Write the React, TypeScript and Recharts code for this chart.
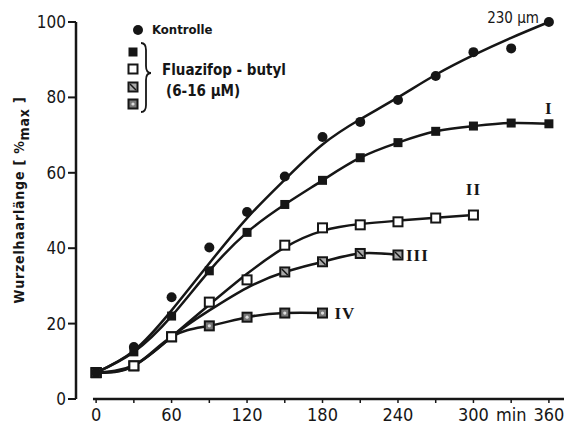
import {
  ComposedChart,
  Line,
  Scatter,
  XAxis,
  YAxis,
  ReferenceLine,
  ReferenceDot,
} from "recharts";

// sampling times (min)
const minutes = [0, 30, 60, 90, 120, 150, 180, 210, 240, 270, 300, 330, 360];

// Kontrolle: measured values and the hand-fitted curve through them
const kontrolleMeasured = [7, 13.8, 27, 40.2, 49.6, 59, 69.5, 73.5, 79.3, 85.7, 92, 93, 100];
const kontrolleCurve = [7, 12.8, 23.5, 36, 48, 58.2, 67.5, 74.2, 80, 86, 91.2, 95.8, 100];

// Fluazifop-butyl series (% of max)
const seriesI = [7, 12.5, 22, 34, 44.2, 51.6, 58, 64, 68, 71, 72.4, 73.2, 73];
const seriesIIMeasured = [7, 8.8, 16.5, 25.7, 31.6, 40.8, 45.4, 46.2, 47, 48, 48.8];
const seriesIICurve = [7, 9, 16.5, 25, 33.2, 40.2, 44.6, 46.4, 47.3, 48.1, 48.8];
const seriesIIICurve = [7, 8.8, 16.5, 23.5, 29.5, 33.7, 36.4, 38.6, 38.2];
const seriesIIIMinutes = [0, 150, 180, 210, 240];
const seriesIIIMeasured = [7, 33.7, 36.4, 38.6, 38.2];
const seriesIV = [7, 8.8, 16.5, 19.4, 21.7, 22.8, 22.8];

const xTicks = [0, 30, 60, 90, 120, 150, 180, 210, 240, 270, 300, 330, 360];
const xTickLabels: Record<number, string> = {
  0: "0",
  60: "60",
  120: "120",
  180: "180",
  240: "240",
  300: "300",
  330: "min",
  360: "360",
};
const yTicks = [0, 20, 40, 60, 80, 100];

const toRows = (values: number[], times: number[] = minutes) =>
  values.map((v, i) => ({ t: times[i], v }));

const INK = "#161616";
const NUM_FONT = "'DejaVu Sans Condensed', 'Liberation Sans', sans-serif";
const SERIF = "'Liberation Serif', 'DejaVu Serif', serif";

type MarkerKind = "circle" | "filled" | "open" | "hatched" | "dotted";

const Marker = ({ kind, cx, cy }: { kind: MarkerKind; cx: number; cy: number }) => {
  const s = 9;
  if (kind === "circle") return <circle cx={cx} cy={cy} r={5} fill={INK} />;
  if (kind === "filled")
    return <rect x={cx - s / 2} y={cy - s / 2} width={s} height={s} fill={INK} />;
  if (kind === "open")
    return (
      <rect
        x={cx - s / 2}
        y={cy - s / 2}
        width={s}
        height={s}
        fill="#fff"
        stroke={INK}
        strokeWidth={2}
      />
    );
  if (kind === "hatched")
    return (
      <g>
        <rect x={cx - s / 2} y={cy - s / 2} width={s} height={s} fill="#aaa" stroke={INK} strokeWidth={2} />
        <line x1={cx - 3} y1={cy - 3} x2={cx + 3} y2={cy + 3} stroke={INK} strokeWidth={1.5} />
      </g>
    );
  return (
    <g>
      <rect x={cx - s / 2} y={cy - s / 2} width={s} height={s} fill="#777" stroke={INK} strokeWidth={2} />
      <circle cx={cx} cy={cy} r={1.6} fill="#ddd" />
    </g>
  );
};

const dotOf = (kind: MarkerKind) => (p: any) =>
  <Marker key={`${kind}-${p.index}`} kind={kind} cx={p.cx} cy={p.cy} />;

const romanLabel = (value: string, position: any, offset: number) => ({
  value,
  position,
  offset,
  fill: INK,
  fontFamily: SERIF,
  fontSize: 17,
  fontWeight: "bold",
  letterSpacing: 1,
});

export default function App() {
  return (
    <div style={{ position: "absolute", left: 0, top: 0, width: 564, height: 431, background: "#fff" }}>
      <ComposedChart width={564} height={431} margin={{ top: 22, right: 0, bottom: 0, left: 0 }}>
        <XAxis
          type="number"
          dataKey="t"
          domain={[-16, 372]}
          ticks={xTicks}
          tickFormatter={(v: number) => xTickLabels[v] ?? ""}
          axisLine={false}
          tickLine={{ stroke: INK, strokeWidth: 1.5 }}
          tickSize={4}
          tickMargin={5}
          height={32}
          interval={0}
          allowDataOverflow
          tick={{ fill: INK, fontFamily: NUM_FONT, fontSize: 18 }}
        />
        <YAxis
          type="number"
          domain={[0, 100]}
          ticks={yTicks}
          width={76}
          axisLine={{ stroke: INK, strokeWidth: 2.5 }}
          tickLine={{ stroke: INK, strokeWidth: 2 }}
          tickSize={8}
          tickMargin={2}
          interval={0}
          tick={{ fill: INK, fontFamily: NUM_FONT, fontSize: 17 }}
        />
        <ReferenceLine
          segment={[
            { x: -2.5, y: 0 },
            { x: 372, y: 0 },
          ]}
          stroke={INK}
          strokeWidth={2.5}
          ifOverflow="visible"
        />

        {/* fitted curves */}
        <Line
          data={toRows(kontrolleCurve)}
          dataKey="v"
          type="natural"
          stroke={INK}
          strokeWidth={2.5}
          dot={false}
          isAnimationActive={false}
        />
        <Line
          data={toRows(seriesIIICurve)}
          dataKey="v"
          type="natural"
          stroke={INK}
          strokeWidth={2.5}
          dot={false}
          isAnimationActive={false}
        />
        <Line
          data={toRows(seriesIICurve)}
          dataKey="v"
          type="natural"
          stroke={INK}
          strokeWidth={2.5}
          dot={false}
          isAnimationActive={false}
        />
        <Line
          data={toRows(seriesIV)}
          dataKey="v"
          type="natural"
          stroke={INK}
          strokeWidth={2.5}
          dot={dotOf("dotted")}
          isAnimationActive={false}
        />
        <Scatter
          data={toRows(seriesIIIMeasured, seriesIIIMinutes)}
          dataKey="v"
          isAnimationActive={false}
          shape={(p: any) => <Marker kind="hatched" cx={p.cx} cy={p.cy} />}
        />
        <Line
          data={toRows(seriesI)}
          dataKey="v"
          type="natural"
          stroke={INK}
          strokeWidth={2.5}
          dot={dotOf("filled")}
          isAnimationActive={false}
        />
        <Scatter
          data={toRows(seriesIIMeasured)}
          dataKey="v"
          isAnimationActive={false}
          shape={(p: any) => <Marker kind="open" cx={p.cx} cy={p.cy} />}
        />
        <Scatter
          data={toRows(kontrolleMeasured)}
          dataKey="v"
          isAnimationActive={false}
          shape={(p: any) => <Marker kind="circle" cx={p.cx} cy={p.cy} />}
        />

        {/* curve annotations */}
        <ReferenceDot
          x={360}
          y={100}
          r={0}
          ifOverflow="visible"
          label={{
            value: "230 µm",
            position: "left",
            offset: 10,
            dy: -4,
            fill: INK,
            fontFamily: NUM_FONT,
            fontSize: 15,
          }}
        />
        <ReferenceDot x={360} y={73} r={0} ifOverflow="visible" label={romanLabel("I", "top", 10)} />
        <ReferenceDot x={300} y={48.8} r={0} ifOverflow="visible" label={romanLabel("II", "top", 20)} />
        <ReferenceDot x={240} y={38.2} r={0} ifOverflow="visible" label={romanLabel("III", "right", 8)} />
        <ReferenceDot x={180} y={22.8} r={0} ifOverflow="visible" label={romanLabel("IV", "right", 12)} />
      </ComposedChart>

      {/* axis title and key */}
      <svg
        width={564}
        height={431}
        style={{ position: "absolute", left: 0, top: 0, pointerEvents: "none" }}
      >
        <text
          x={20}
          y={200}
          transform="rotate(-90 20 200)"
          textAnchor="middle"
          dominantBaseline="middle"
          fill={INK}
          fontFamily={NUM_FONT}
          fontWeight="bold"
          fontSize={14}
          letterSpacing={0.8}
        >
          Wurzelhaarlänge  [ %
          <tspan dy={5}>max</tspan>
          <tspan dy={-5}> ]</tspan>
        </text>

        <Marker kind="circle" cx={138} cy={30} />
        <text x={152} y={30} dominantBaseline="middle" fill={INK} fontFamily={NUM_FONT} fontWeight="bold" fontSize={13}>
          Kontrolle
        </text>
        <Marker kind="filled" cx={133} cy={52} />
        <Marker kind="open" cx={133} cy={69} />
        <Marker kind="hatched" cx={133} cy={87} />
        <Marker kind="dotted" cx={133} cy={104} />
        <path
          d="M141,43 Q146,43 146,50 L146,66 Q146,73 151,73 Q146,73 146,80 L146,105 Q146,112 141,112"
          fill="none"
          stroke={INK}
          strokeWidth={1.8}
        />
        <text x={162} y={70} dominantBaseline="middle" fill={INK} fontFamily={NUM_FONT} fontWeight="bold" fontSize={15}>
          Fluazifop - butyl
        </text>
        <text x={166} y={91} dominantBaseline="middle" fill={INK} fontFamily={NUM_FONT} fontWeight="bold" fontSize={15}>
          (6-16 µM)
        </text>
      </svg>
    </div>
  );
}
